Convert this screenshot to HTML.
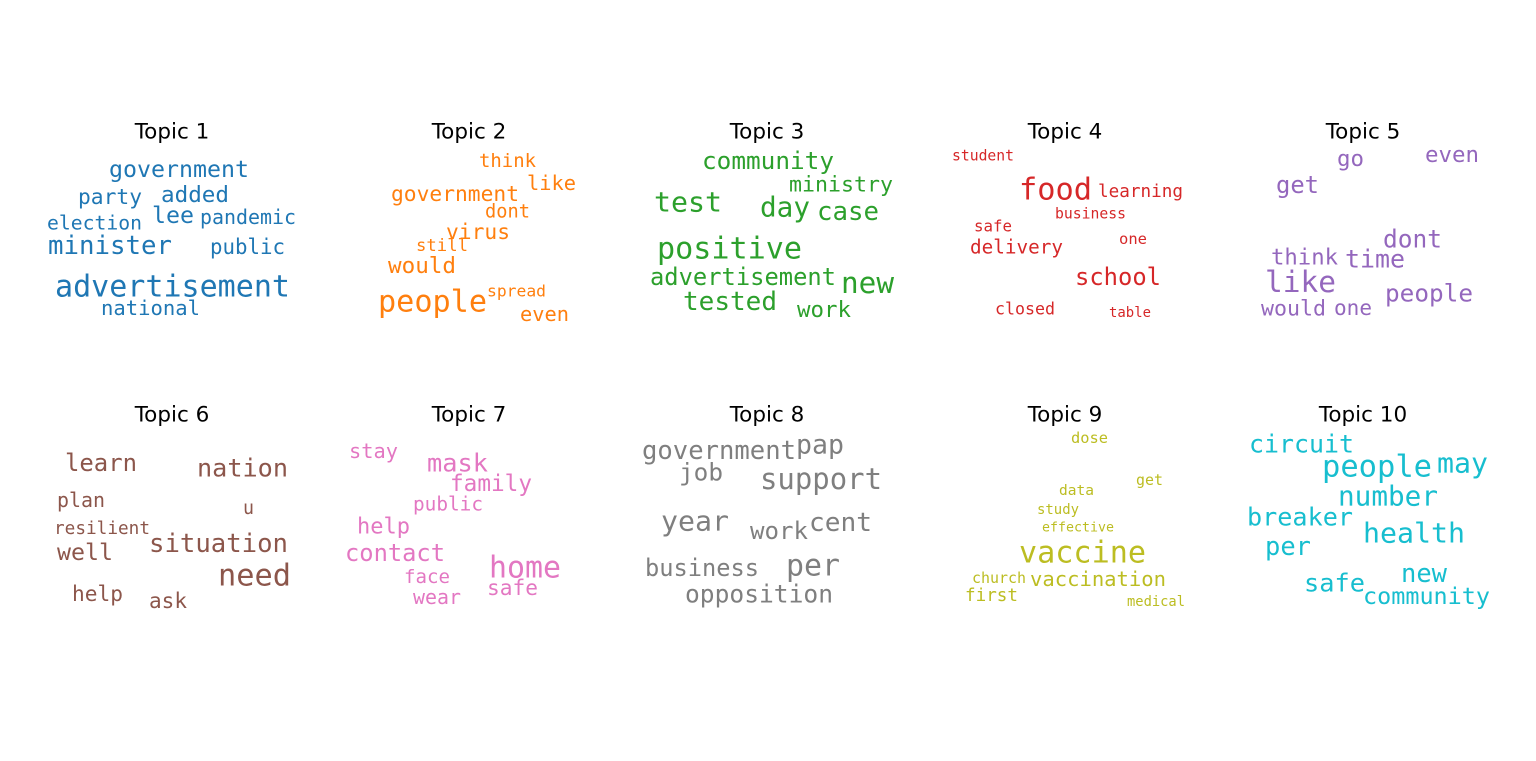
<!DOCTYPE html>
<html><head><meta charset="utf-8">
<style>
html,body{margin:0;padding:0;background:#fff;}
svg{display:block;}
.t{font-family:"DejaVu Sans","Liberation Sans",sans-serif;font-size:21.5px;fill:#000;}
.w{font-family:"DejaVu Sans Mono","Liberation Mono",monospace;}
</style></head>
<body>
<svg id="chart" width="1536" height="761" viewBox="0 0 1536 761" xmlns="http://www.w3.org/2000/svg"></svg>
<script>
const topicTitles = ["Topic 1","Topic 2","Topic 3","Topic 4","Topic 5","Topic 6","Topic 7","Topic 8","Topic 9","Topic 10"];
const topicColors = ["#1f77b4","#ff7f0e","#2ca02c","#d62728","#9467bd","#8c564b","#e377c2","#7f7f7f","#bcbd22","#17becf"];
const titleCenters = [[172,132],[469,132],[767,132],[1065,132],[1363,132],[172,415],[469,415],[767,415],[1065,415],[1363,415]];
const topicWords = [
 ["government","party","added","election","lee","pandemic","minister","public","advertisement","national"],
 ["think","like","government","dont","virus","still","would","spread","people","even"],
 ["community","ministry","test","day","case","positive","advertisement","new","tested","work"],
 ["student","food","learning","business","safe","delivery","one","school","closed","table"],
 ["go","even","get","dont","think","time","like","people","would","one"],
 ["learn","nation","plan","u","resilient","situation","well","need","help","ask"],
 ["stay","mask","family","public","help","contact","home","face","safe","wear"],
 ["government","pap","job","support","year","work","cent","business","per","opposition"],
 ["dose","get","data","study","effective","vaccine","church","vaccination","first","medical"],
 ["circuit","people","may","number","breaker","health","per","safe","new","community"]
];
const wordSizes = [
 [23,21,22.5,19.7,23,20,26,21,30,20.5],
 [19,20,21,18.7,21,17,22.5,16.3,30,20],
 [24,21.6,28,27.7,25.7,30,23.8,29,26,22.4],
 [14.7,30,17.6,14.7,15.8,19.3,15.5,23.8,16.6,14],
 [22.4,22.4,23.8,24.5,22,25,29.5,24.4,21.6,21],
 [24,25,20,19,17.7,25.6,23,30,21,21],
 [20,25,22.7,19.4,22,23.7,30,19,21,20],
 [25.6,26.6,24.4,29,28,24,26,23.7,30,24.6],
 [15.4,15,14.5,14,13.3,30,15,20.5,17.6,13.8],
 [25,30,28,27.7,25,28,25.5,25.3,25.5,23.4]
];
// layout (word-cloud placement): left edge, right edge, vertical centre
const layoutX0 = [
 [109,78,161,47,152,200,48,210,55,101],
 [479,527,391,485,446,416,388,487,378,520],
 [702,789,654,760,817,657,650,841,683,797],
 [952,1019,1098,1055,974,970,1119,1075,995,1109],
 [1337,1425,1276,1383,1271,1345,1265,1385,1261,1334],
 [65,197,57,243,54,149,57,218,72,149],
 [349,427,450,413,357,345,489,404,487,413],
 [642,796,679,760,661,750,809,645,786,685],
 [1071,1136,1059,1037,1042,1019,972,1030,965,1127],
 [1249,1322,1437,1338,1247,1363,1265,1304,1401,1363]
];
const layoutX1 = [
 [249,142,229,142,194,296,172,285,290,200],
 [536,576,519,530,510,468,456,546,487,569],
 [834,893,722,810,879,802,836,894,777,851],
 [1014,1092,1183,1126,1012,1063,1147,1161,1055,1151],
 [1364,1479,1319,1442,1338,1405,1336,1473,1326,1372],
 [137,288,105,254,150,288,113,291,123,187],
 [398,488,532,483,410,445,561,450,538,461],
 [796,844,723,882,729,808,872,759,840,833],
 [1108,1163,1094,1079,1114,1146,1026,1166,1018,1185],
 [1354,1432,1488,1438,1353,1465,1311,1365,1447,1490]
];
const layoutY = [
 [170,197,195,223,216,217,246,247,287,308],
 [161,183,194,212,232,246,266,291,302,314],
 [161,185,202,207,212,249,277,283,302,310],
 [156,190,192,214,226,247,239,277,309,313],
 [159,155,185,239,258,259,282,293,309,308],
 [463,468,500,508,529,544,553,576,594,601],
 [451,463,484,504,527,553,568,577,588,597],
 [451,445,472,479,521,531,523,568,566,594],
 [438,480,491,510,528,553,578,579,596,602],
 [444,467,463,496,517,533,547,583,574,596]
];
const NS="http://www.w3.org/2000/svg";
const svg=document.getElementById('chart');
for(let t=0;t<topicTitles.length;t++){
  const g=document.createElementNS(NS,'g');
  
  
  svg.appendChild(g);
  const ti=document.createElementNS(NS,'text');
  
  
  ti.setAttribute('class','t');
  ti.setAttribute('x',titleCenters[t][0]);
  ti.setAttribute('y',titleCenters[t][1]);
  ti.setAttribute('text-anchor','middle');
  ti.setAttribute('dominant-baseline','central');
  ti.textContent=topicTitles[t];
  g.appendChild(ti);
  for(let i=0;i<topicWords[t].length;i++){
    const w=document.createElementNS(NS,'text');
    
    
    w.setAttribute('class','w');
    w.setAttribute('x',layoutX0[t][i]);
    w.setAttribute('y',layoutY[t][i]);
    w.setAttribute('dominant-baseline','central');
    w.setAttribute('font-size',wordSizes[t][i]);
    w.setAttribute('fill',topicColors[t]);
    w.setAttribute('textLength',layoutX1[t][i]-layoutX0[t][i]);
    w.setAttribute('lengthAdjust','spacingAndGlyphs');
    w.textContent=topicWords[t][i];
    g.appendChild(w);
  }
}
</script>
</body></html>
